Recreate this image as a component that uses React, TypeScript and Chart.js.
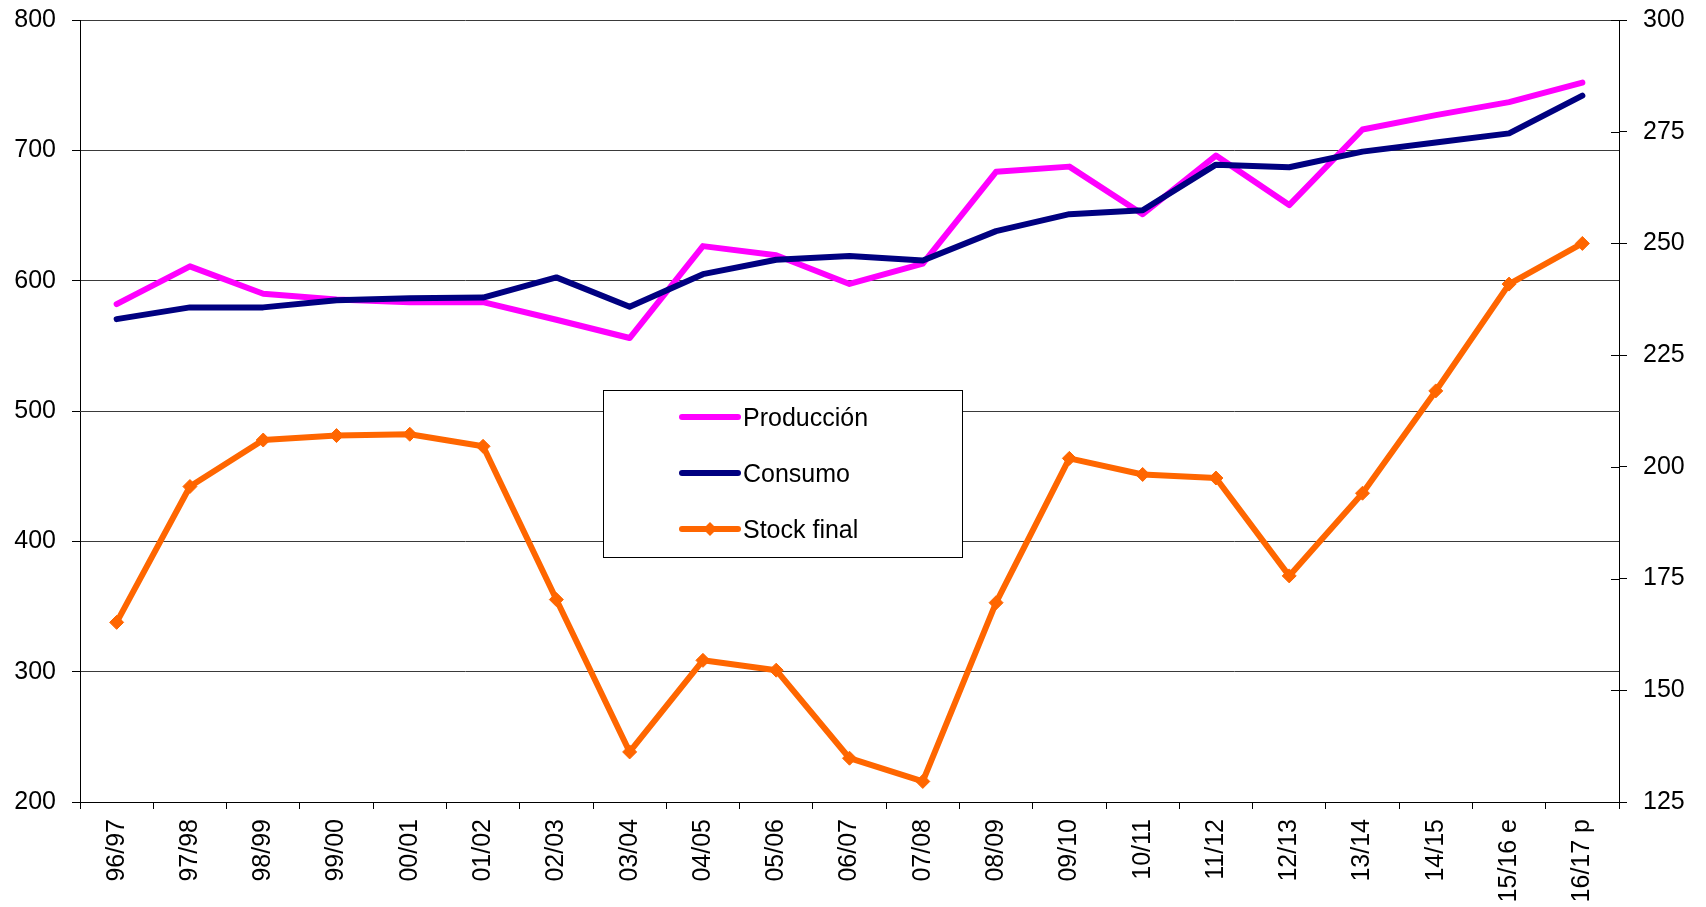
import React, { useEffect, useRef } from "react";
import { Chart, registerables } from "chart.js";

Chart.register(...registerables);

const categories = [
  "96/97", "97/98", "98/99", "99/00", "00/01", "01/02", "02/03", "03/04",
  "04/05", "05/06", "06/07", "07/08", "08/09", "09/10", "10/11", "11/12",
  "12/13", "13/14", "14/15", "15/16 e", "16/17 p",
];

const produccion = [
  582, 611, 590, 585.5, 583.5, 583.5, 570, 556, 626.5, 619.5, 597.5, 613,
  683.5, 687.5, 651, 696, 658, 716, 727, 737, 752,
];

const consumo = [
  570.5, 579.5, 579.5, 585, 586.5, 587, 602.5, 580, 605, 616, 619, 615.5, 638,
  651, 654, 689, 687, 699, 706, 713, 742,
];

const stockFinal = [
  165.2, 195.6, 206, 207, 207.3, 204.6, 170.3, 136.2, 156.7, 154.5, 134.8,
  129.6, 169.6, 201.9, 198.3, 197.5, 175.6, 194.1, 217, 240.9, 250,
];

const FONT = '"Liberation Sans", Arial, sans-serif';

const boxLegend = {
  id: "boxLegend",
  afterDatasetsDraw(chart: any) {
    const ctx = chart.ctx;
    const x0 = 603;
    const y0 = 390;
    const w = 359;
    const h = 167;
    ctx.save();
    ctx.fillStyle = "#ffffff";
    ctx.fillRect(x0, y0, w, h);
    ctx.strokeStyle = "#000000";
    ctx.lineWidth = 1;
    ctx.strokeRect(x0 + 0.5, y0 + 0.5, w, h);
    chart.data.datasets.forEach((ds: any, i: number) => {
      const y = y0 + 27 + i * 56;
      ctx.strokeStyle = ds.borderColor;
      ctx.lineWidth = 6;
      ctx.lineCap = "round";
      ctx.beginPath();
      ctx.moveTo(682, y);
      ctx.lineTo(738, y);
      ctx.stroke();
      if (ds.pointRadius > 0) {
        const r = 7;
        ctx.fillStyle = ds.borderColor;
        ctx.beginPath();
        ctx.moveTo(710, y - r);
        ctx.lineTo(710 + r, y);
        ctx.lineTo(710, y + r);
        ctx.lineTo(710 - r, y);
        ctx.closePath();
        ctx.fill();
      }
      ctx.fillStyle = "#000000";
      ctx.font = `25px ${FONT}`;
      ctx.textBaseline = "alphabetic";
      ctx.textAlign = "left";
      ctx.fillText(ds.label, 743, y + 9);
    });
    ctx.restore();
  },
};

const innerRightTicks = {
  id: "innerRightTicks",
  afterDraw(chart: any) {
    const s = chart.scales.y1;
    if (!s) return;
    const ctx = chart.ctx;
    ctx.save();
    ctx.strokeStyle = "#000000";
    ctx.lineWidth = 1;
    s.ticks.forEach((t: any) => {
      const py = Math.round(s.getPixelForValue(t.value)) + 0.5;
      ctx.beginPath();
      ctx.moveTo(s.left - 8, py);
      ctx.lineTo(s.left, py);
      ctx.stroke();
    });
    ctx.restore();
  },
};

export default function App() {
  const canvasRef = useRef<HTMLCanvasElement | null>(null);

  useEffect(() => {
    if (!canvasRef.current) return;
    Chart.defaults.font.family = FONT;
    Chart.defaults.color = "#000000";
    const chart = new Chart(canvasRef.current, {
      type: "line",
      data: {
        labels: categories,
        datasets: [
          {
            label: "Producción",
            data: produccion,
            borderColor: "#FF00FF",
            backgroundColor: "#FF00FF",
            borderWidth: 6,
            pointRadius: 0,
            pointHoverRadius: 0,
            tension: 0,
            yAxisID: "y",
            order: 3,
            borderJoinStyle: "round",
            borderCapStyle: "round",
          },
          {
            label: "Consumo",
            data: consumo,
            borderColor: "#000080",
            backgroundColor: "#000080",
            borderWidth: 6,
            pointRadius: 0,
            pointHoverRadius: 0,
            tension: 0,
            yAxisID: "y",
            order: 2,
            borderJoinStyle: "round",
            borderCapStyle: "round",
          },
          {
            label: "Stock final",
            data: stockFinal,
            borderColor: "#FF6600",
            backgroundColor: "#FF6600",
            borderWidth: 6,
            pointRadius: 7,
            pointStyle: "rectRot",
            pointBorderWidth: 1,
            pointHoverRadius: 7,
            tension: 0,
            yAxisID: "y1",
            order: 1,
            borderJoinStyle: "round",
            borderCapStyle: "round",
          },
        ],
      },
      options: {
        animation: false,
        responsive: false,
        maintainAspectRatio: false,
        layout: { padding: { top: 20, left: 0, right: 0, bottom: 0 } },
        plugins: {
          legend: { display: false },
          tooltip: { enabled: false },
        },
        scales: {
          x: {
            offset: true,
            grid: {
              offset: true,
              drawOnChartArea: false,
              tickLength: 7,
              tickColor: "#000000",
            },
            border: { color: "#000000", width: 1 },
            ticks: {
              autoSkip: false,
              minRotation: 90,
              maxRotation: 90,
              padding: 10,
              font: { size: 25 },
              color: "#000000",
            },
            afterFit(scale: any) {
              scale.height = 105;
              scale.paddingLeft = 0;
              scale.paddingRight = 0;
            },
          },
          y: {
            position: "left",
            min: 200,
            max: 800,
            ticks: {
              stepSize: 100,
              padding: 16,
              font: { size: 25 },
              color: "#000000",
            },
            grid: {
              color: "#3a3a3a",
              tickColor: "#000000",
              tickLength: 8,
              lineWidth: 1,
            },
            border: { color: "#000000", width: 1 },
            afterFit(scale: any) {
              scale.width = 80;
              scale.paddingTop = 0;
              scale.paddingBottom = 0;
            },
          },
          y1: {
            position: "right",
            min: 125,
            max: 300,
            ticks: {
              stepSize: 25,
              padding: 16,
              font: { size: 25 },
              color: "#000000",
            },
            grid: {
              drawOnChartArea: false,
              tickColor: "#000000",
              tickLength: 8,
            },
            border: { color: "#000000", width: 1 },
            afterFit(scale: any) {
              scale.width = 87;
              scale.paddingTop = 0;
              scale.paddingBottom = 0;
            },
          },
        },
      },
      plugins: [boxLegend, innerRightTicks],
    } as any);
    return () => chart.destroy();
  }, []);

  return (
    <div
      style={{
        position: "fixed",
        left: 0,
        top: 0,
        width: 1706,
        height: 907,
        background: "#ffffff",
      }}
    >
      <canvas ref={canvasRef} width={1706} height={907} />
    </div>
  );
}
